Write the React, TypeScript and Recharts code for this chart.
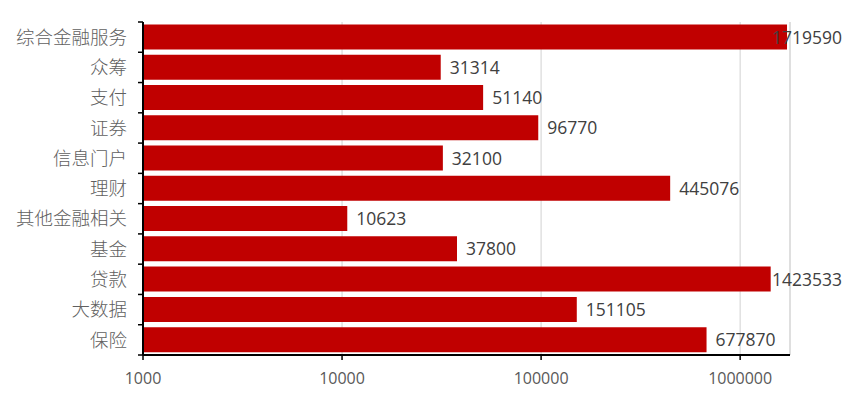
import React from 'react';
import {
  BarChart,
  Bar,
  XAxis,
  YAxis,
  CartesianGrid,
  ReferenceLine,
  LabelList,
} from 'recharts';

const categories: string[] = [
  '综合金融服务',
  '众筹',
  '支付',
  '证券',
  '信息门户',
  '理财',
  '其他金融相关',
  '基金',
  '贷款',
  '大数据',
  '保险',
];

const values: number[] = [
  1719590, 31314, 51140, 96770, 32100, 445076, 10623, 37800, 1423533, 151105, 677870,
];

const xTicks: number[] = [1000, 10000, 100000, 1000000];
const xDomainMax = 1780000;

const data = categories.map((name, i) => ({ name, value: values[i] }));

const W = 847;
const H = 405;
const PLOT_TOP = 22;
const PLOT_BOTTOM = 355;
const AXIS_X = 143;
const PLOT_RIGHT = 790;
const BAND = (PLOT_BOTTOM - PLOT_TOP) / categories.length;

const CategoryTick = (props: any) => {
  const { y, payload, index } = props;
  const half = BAND / 2;
  return (
    <g>
      <line x1={AXIS_X - 5} x2={AXIS_X} y1={y - half} y2={y - half} stroke="#000" strokeWidth={1.5} />
      {index === categories.length - 1 && (
        <line x1={AXIS_X - 5} x2={AXIS_X} y1={y + half} y2={y + half} stroke="#000" strokeWidth={1.5} />
      )}
      <text
        x={AXIS_X - 16}
        y={y}
        dy="0.36em"
        textAnchor="end"
        fill="#606060"
        fontSize={18.5}
        fontWeight={300}
        fontFamily="'Noto Sans CJK SC', sans-serif"
      >
        {payload.value}
      </text>
    </g>
  );
};

const ValueLabel = (props: any) => {
  const { x, y, width, height, value } = props;
  const text = String(value);
  const est = text.length * 10;
  let tx = Number(x) + Number(width) + 9;
  let anchor: 'start' | 'end' = 'start';
  if (tx + est > 842) {
    tx = 842;
    anchor = 'end';
  }
  return (
    <text
      x={tx}
      y={Number(y) + Number(height) / 2}
      dy="0.38em"
      textAnchor={anchor}
      fill="#404040"
      fontSize={17.5}
      fontFamily="'Open Sans', sans-serif"
    >
      {text}
    </text>
  );
};

export default function App() {
  return (
    <div style={{ position: 'absolute', left: 0, top: 0, width: W, height: H, background: '#fff' }}>
      <BarChart
        width={W}
        height={H}
        data={data}
        layout="vertical"
        margin={{ top: PLOT_TOP, right: W - PLOT_RIGHT, bottom: 0, left: 0 }}
        barCategoryGap="8%"
      >
        <CartesianGrid horizontal={false} vertical={true} stroke="#d9d9d9" strokeWidth={1.2} />
        <ReferenceLine x={xDomainMax} stroke="#d9d9d9" strokeWidth={1.2} />
        <XAxis
          type="number"
          scale="log"
          domain={[1000, xDomainMax]}
          ticks={xTicks}
          allowDataOverflow
          height={H - PLOT_BOTTOM}
          axisLine={{ stroke: '#000', strokeWidth: 2 }}
          tickLine={{ stroke: '#000', strokeWidth: 1.5 }}
          tickSize={5}
          tickMargin={13}
          tick={{ fill: '#595959', fontSize: 16, fontFamily: "'Open Sans', sans-serif" }}
        />
        <YAxis
          type="category"
          dataKey="name"
          width={AXIS_X}
          axisLine={{ stroke: '#000', strokeWidth: 2 }}
          tickLine={false}
          tick={<CategoryTick />}
          interval={0}
        />
        <Bar dataKey="value" fill="#C00000" isAnimationActive={false}>
          <LabelList dataKey="value" content={<ValueLabel />} />
        </Bar>
      </BarChart>
    </div>
  );
}
